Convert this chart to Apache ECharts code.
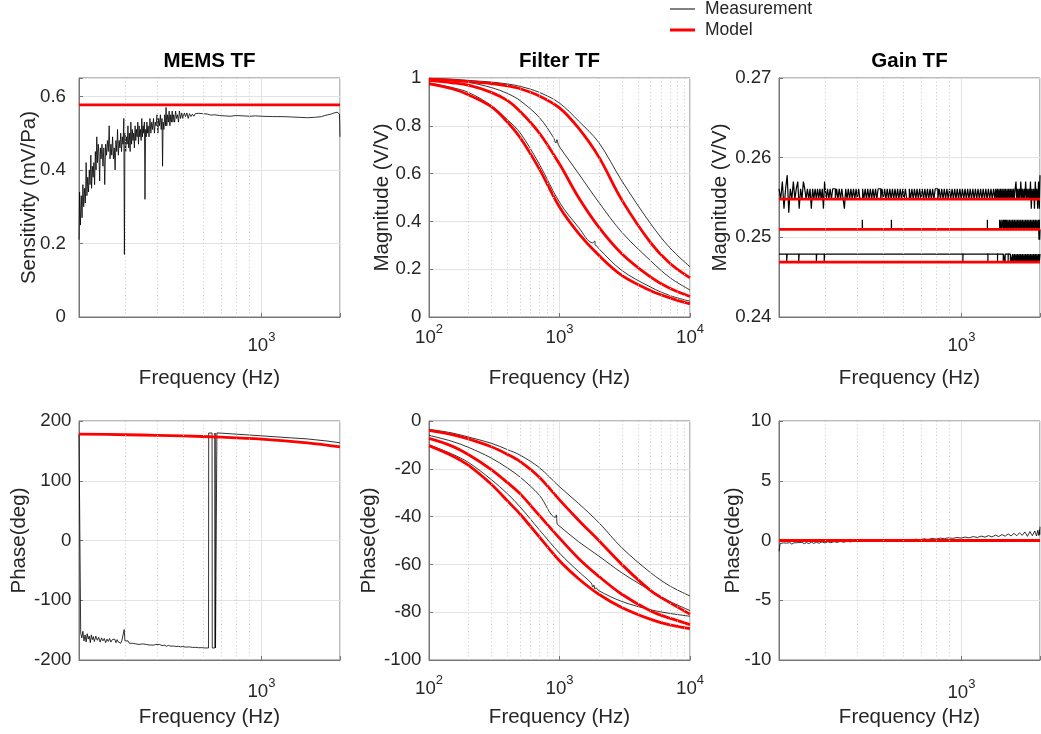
<!DOCTYPE html>
<html><head><meta charset="utf-8">
<script src="https://cdn.jsdelivr.net/npm/echarts@6/dist/echarts.min.js"></script>
<style>html,body{margin:0;padding:0;background:#fff}#c{width:1041px;height:734px}</style>
</head><body><div id="c"></div>
<script>
// ---------------- DATA ----------------
// MEMS TF magnitude (mV/Pa)
const memsMagF = [
 200,201,202.5,204,205.5,207,208.5,210,211.5,213,
 214.5,216,217.5,219,220.5,222,223.5,225,226.5,228,
 229.5,231,232.5,234,235.5,237,238.5,240,241.5,243,
 245,247,249,251,253,255,257,259,261,263,
 265,267,269,271,273,275,277,279,281,283,
 285,287,289,291,293,295,297,298.5,300,302,
 304,306,308,310,312,314,316,318,320,322,
 324,326,328,330,332,334,336,338,340,342,
 344,346,348,350,352,354,356,358,360,362,
 364,366,368,371,374,377,380,383,386,389,
 392,395,398,401,404,407,410,413,416,418,
 420,423,426,429,431,434,437,440,443,446,
 449,452,455,458,461,465,469,473,477,481,
 485,490,495,500,506,512,518,524,530,537,
 544,551,558,566,575,585,595,605,620,640,
 660,690,720,760,800,850,900,950,1000,1100,
 1200,1300,1400,1500,1600,1700,1750,1800,1850,1900,
 1950,1975,1990,1995,2000];
const memsMagV = [
 0.21,0.34,0.25,0.33,0.27,0.36,0.30,0.35,0.31,0.42,
 0.33,0.38,0.34,0.40,0.36,0.44,0.35,0.41,0.38,0.42,
 0.36,0.45,0.40,0.49,0.42,0.47,0.44,0.37,0.46,0.43,
 0.47,0.41,0.46,0.36,0.47,0.44,0.48,0.45,0.52,0.43,
 0.47,0.44,0.49,0.43,0.46,0.40,0.48,0.45,0.51,0.44,
 0.48,0.46,0.50,0.45,0.49,0.47,0.54,0.17,0.50,0.45,
 0.49,0.47,0.52,0.46,0.50,0.45,0.53,0.47,0.51,0.48,
 0.50,0.46,0.52,0.48,0.51,0.49,0.53,0.47,0.52,0.49,
 0.51,0.48,0.54,0.49,0.52,0.50,0.53,0.32,0.51,0.49,
 0.53,0.50,0.52,0.49,0.54,0.50,0.53,0.51,0.54,0.50,
 0.53,0.52,0.55,0.50,0.54,0.52,0.55,0.51,0.54,0.41,
 0.53,0.51,0.55,0.52,0.57,0.52,0.55,0.53,0.56,0.52,
 0.55,0.53,0.56,0.53,0.55,0.53,0.56,0.54,0.55,0.53,
 0.56,0.54,0.555,0.54,0.555,0.545,0.555,0.54,0.553,0.545,
 0.552,0.546,0.553,0.548,0.554,0.549,0.553,0.55,0.552,0.549,
 0.55,0.548,0.547,0.546,0.548,0.547,0.546,0.547,0.546,0.545,
 0.545,0.544,0.543,0.542,0.543,0.545,0.548,0.55,0.552,0.555,
 0.557,0.555,0.552,0.53,0.49];
const memsModelF = [200, 2000];
const memsModelV = [0.577, 0.577];

// MEMS TF phase (deg)
const memsPhF = [
 200,203,205,207,209,211,213,215,217,219,
 221,223,225,227,229,232,235,238,241,244,
 247,250,253,256,259,262,265,268,271,274,
 277,280,283,286,289,292,295,298,300,304,
 308,312,316,320,325,330,335,340,345,350,
 356,362,368,374,380,387,394,401,408,416,
 424,432,440,450,460,470,480,490,500,515,
 530,545,560,575,590,605,627,628,647,648,
 663,664,666,667,674,675,700,800,1000,1200,
 1500,1800,2000];
const memsPhV = [
 178,-155,-163,-152,-168,-158,-170,-156,-165,-160,
 -171,-158,-166,-161,-169,-160,-167,-162,-170,-163,
 -168,-164,-171,-165,-169,-164,-170,-166,-169,-165,
 -171,-166,-170,-167,-172,-167,-170,-149,-168,-171,
 -168,-172,-169,-172,-170,-173,-170,-174,-171,-173,
 -172,-174,-172,-175,-173,-175,-174,-176,-174,-176,
 -175,-177,-175.5,-177,-176.5,-177.5,-177,-178,-177.5,-178.5,
 -178,-179,-178.8,-179.5,-179.3,-179.8,-179.9,179.9,179.9,-179.9,
 -179.9,179.9,179.9,-179.9,-179.9,180,179.7,178,175.2,172.8,
 170,166.3,163.5];
const memsPhModelF = [200,300,400,500,700,1000,1500,2000];
const memsPhModelV = [178.1,177,176,175,173,169.8,163.5,156.7];

// Filter TF
const filterF = [100,150,200,300,400,500,700,1000,1400,2000,3000,5000,7000,10000];
const filterMagModel1 = [0.995,0.99,0.985,0.977,0.967,0.955,0.925,0.875,0.79,0.67,0.49,0.31,0.225,0.164];
const filterMagModel2 = [0.99,0.98,0.97,0.94,0.905,0.86,0.77,0.64,0.50,0.376,0.265,0.167,0.12,0.086];
const filterMagModel3 = [0.975,0.955,0.93,0.88,0.815,0.75,0.62,0.46,0.35,0.258,0.174,0.11,0.08,0.055];
const filterMagMeas1 = [0.998,0.995,0.99,0.983,0.975,0.965,0.94,0.895,0.82,0.73,0.57,0.39,0.29,0.21];
const filterMagMeas2F = [100,150,200,300,400,500,700,897,939,956,978,1000,1400,2000,3000,5000,7000,10000];
const filterMagMeas2 = [0.995,0.99,0.982,0.96,0.935,0.905,0.835,0.752,0.728,0.742,0.722,0.712,0.6,0.48,0.355,0.235,0.165,0.113];
const filterMagMeas3F = [100,150,200,300,400,500,700,1000,1400,1800,1860,1880,1920,2000,3000,5000,7000,10000];
const filterMagMeas3 = [0.98,0.96,0.94,0.885,0.825,0.77,0.64,0.48,0.375,0.31,0.318,0.30,0.298,0.286,0.195,0.125,0.09,0.066];

const filterPhModel1 = [-3.9,-5.7,-7.5,-10.8,-14,-17,-23.5,-33,-41.5,-50,-60,-71,-76,-80.8];
const filterPhModel2 = [-7.3,-10.5,-14,-20.3,-25.8,-30.5,-39.5,-49,-57.5,-65,-72.5,-79.5,-82.5,-85.2];
const filterPhModel3 = [-10.3,-14.5,-18.5,-26.5,-33.5,-39,-48.5,-58.5,-66,-72.5,-78,-83,-85.3,-86.9];
const filterPhMeas1 = [-3.5,-5,-6.7,-9.3,-12,-14.3,-19.5,-27.5,-34.5,-42.5,-53,-63.5,-69,-73.2];
const filterPhMeas2F = [100,150,200,300,400,500,700,930,945,960,980,1000,1400,2000,3000,5000,7000,10000];
const filterPhMeas2 = [-6,-8.5,-11,-15.5,-19.7,-23.5,-31,-40.3,-39.3,-43.2,-43.6,-44,-50.5,-56.5,-63.5,-71,-75.5,-79.3];
const filterPhMeas3F = [100,150,200,300,400,500,700,1000,1400,1750,1800,1830,1870,1900,2000,3000,5000,7000,10000];
const filterPhMeas3 = [-10,-13.8,-17.3,-24.5,-30.5,-36,-45.5,-55.3,-63,-67.8,-69.5,-68.6,-70.3,-69.8,-71,-75.5,-79,-80.5,-81.7];

// Gain TF magnitude (V/V)
const gainTopF = [
 200,203,206,209,212,215,218,221,224,227,230,233,236,239,242,245,248,251,254,257,
 260,263,266,269,272,275,278,281,284,287,290,293,296,299,
 303.5,307,310.5,314,317.6,321.3,325,328.7,332.5,336.3,
 340.2,344.1,348.1,352.1,356.1,360.2,364.4,368.6,372.8,377.1,
 381.4,385.8,390.3,394.8,399.3,403.9,408.5,413.2,418,422.8,
 427.7,432.6,437.6,442.6,447.7,452.9,458.1,463.4,468.7,474.1,
 479.6,485.1,490.7,496.3,502,507.8,513.7,519.6,525.6,531.6,
 537.8,544,550.2,556.5,562.9,569.4,576,582.6,589.3,596.1,
 603,609.9,617,624.1,631.2,638.5,645.9,653.3,660.8,668.4,
 676.1,683.9,691.8,699.7,707.8,716,724.2,732.5,741,749.5,
 758.1,766.9,775.7,784.6,793.7,802.8,812,821.4,830.8,840.4,
 850,859.8,869.7,879.7,889.8,900.1,910.4,920.9,931.5,942.2,
 953,964,975.1,986.3,997.6,1009,1020.6,1032.4,1044.3,1056.3,
 1068.4,1080.7,1093.1,1105.7,1118.4,1131.3,1144.3,1157.5,1170.8,1184.3,
 1197.9,1211.7,1225.6,1239.7,1254,1268.4,1283,1297.7,1312.6,1327.7,
 1343,1353,
 1364,1373,1383,1393,1403,1413,1423,1433,1443,1454,
 1464,1474,1485,1496,1506,1517,1528,1539,1550,1561,
 1572,1583,1595,1606,1618,1629,1641,1653,1664,1676,
 1688,1700,1712,1725,1737,1749,1762,1775,1787,1800,
 1813,1826,1839,1852,1865,1878,1892,1905,1919,1933,
 1946,1960,1974,1988,2000];
const gainTopV = [
 0.2561,0.2548,0.2570,0.2536,0.2561,0.2578,0.2531,0.2561,0.2548,0.2570,
 0.2548,0.2561,0.2570,0.2536,0.2561,0.2548,0.2570,0.2561,0.2548,0.2561,
 0.2548,0.2561,0.2536,0.2561,0.2548,0.2561,0.2548,0.2561,0.2548,0.2561,
 0.2548,0.2561,0.2536,0.2570,
 0.2548,0.2561,0.2548,0.2561,0.2548,0.2561,0.2561,0.2548,0.2561,0.2548,
 0.2561,0.2548,0.2561,0.2548,0.2536,0.2561,0.2548,0.2561,0.2548,0.2561,
 0.2548,0.2561,0.2548,0.2561,0.2548,0.2561,0.2548,0.2548,0.2561,0.2548,
 0.2561,0.2548,0.2561,0.2548,0.2561,0.2548,0.2561,0.2548,0.2561,0.2548,
 0.2561,0.2561,0.2548,0.2561,0.2548,0.2561,0.2548,0.2561,0.2548,0.2561,
 0.2548,0.2561,0.2548,0.2561,0.2548,0.2561,0.2548,0.2561,0.2548,0.2561,
 0.2548,0.2561,0.2548,0.2548,0.2561,0.2548,0.2561,0.2548,0.2561,0.2548,
 0.2561,0.2548,0.2561,0.2548,0.2561,0.2548,0.2561,0.2548,0.2561,0.2548,
 0.2561,0.2548,0.2561,0.2548,0.2561,0.2561,0.2548,0.2561,0.2548,0.2561,
 0.2548,0.2561,0.2548,0.2561,0.2548,0.2561,0.2548,0.2561,0.2548,0.2561,
 0.2548,0.2561,0.2548,0.2561,0.2548,0.2561,0.2548,0.2561,0.2548,0.2561,
 0.2548,0.2561,0.2548,0.2561,0.2548,0.2561,0.2548,0.2561,0.2548,0.2561,
 0.2548,0.2561,0.2548,0.2561,0.2548,0.2561,0.2548,0.2561,0.2548,0.2561,
 0.2548,0.2561,
 0.2548,0.2561,0.2548,0.2561,0.2548,0.2561,0.2548,0.2561,0.2548,0.2561,
 0.2548,0.2561,0.2548,0.2561,0.2548,0.2561,0.2548,0.2561,0.2548,0.2561,
 0.2548,0.2561,0.2548,0.2561,0.2570,0.2548,0.2561,0.2548,0.2561,0.2548,
 0.2570,0.2548,0.2561,0.2548,0.2561,0.2548,0.2570,0.2548,0.2561,0.2548,
 0.2561,0.2548,0.2570,0.2536,0.2561,0.2548,0.2561,0.2536,0.2570,0.2548,
 0.2561,0.2536,0.2570,0.2536,0.2578];
const gainMidF = [
 200,417,418,539,540,1257,1258,1400,1401,1420,1421,1443,1444,1454,1455,1464,1465,1474,1475,1485,1496,
 1506,1517,1528,1539,1550,1561,1572,1583,1595,1606,
 1618,1629,1641,1653,1664,1676,1688,1700,1712,1725,
 1737,1749,1762,1775,1787,1800,1813,1826,1839,1852,
 1865,1878,1892,1905,1919,1933,1946,1960,1974,
 1982,1988,1994,2000];
const gainMidV = [
 0.2510,0.2522,0.2510,0.2522,0.2510,0.2522,0.2510,0.2522,0.2510,0.2522,0.2510,0.2522,0.2510,0.2522,0.2510,0.2522,0.2510,0.2522,0.2510,0.2522,0.2510,
 0.2522,0.2510,0.2522,0.2510,0.2522,0.2510,0.2522,0.2510,0.2522,0.2510,
 0.2522,0.2510,0.2522,0.2510,0.2522,0.2510,0.2522,0.2510,0.2522,0.2510,
 0.2522,0.2510,0.2522,0.2510,0.2522,0.2510,0.2522,0.2510,0.2522,0.2510,
 0.2522,0.2510,0.2522,0.2510,0.2522,0.2510,0.2522,0.2510,0.2522,
 0.2497,0.2522,0.2497,0.2510];
const gainBotF = [
 200,214,215,238,239,278,279,298,299,1013,1014,1263,1264,1375,1376,1446,1447,1470,1471,1510,1511,1540,1541,
 1561,1572,1583,1595,1606,1618,1629,1641,1653,1664,
 1676,1688,1700,1712,1725,1737,1749,1762,1775,1787,
 1800,1813,1826,1839,1852,1865,1878,1892,1905,1919,
 1933,1946,1960,1974,1988,2000];
const gainBotV = [
 0.2479,0.2469,0.2479,0.2469,0.2479,0.2469,0.2479,0.2469,0.2479,0.2469,0.2479,0.2469,0.2479,0.2469,0.2479,0.2469,0.2479,0.2469,0.2479,0.2469,0.2479,0.2469,0.2479,
 0.2469,0.2479,0.2469,0.2479,0.2469,0.2479,0.2469,0.2479,0.2469,0.2479,
 0.2469,0.2479,0.2469,0.2479,0.2469,0.2479,0.2469,0.2479,0.2469,0.2479,
 0.2469,0.2479,0.2469,0.2479,0.2469,0.2479,0.2469,0.2479,0.2469,0.2479,
 0.2469,0.2479,0.2469,0.2479,0.2469,0.2479];
const gainModelF = [200, 2000];
const gainModel1 = [0.2548, 0.2548];
const gainModel2 = [0.2510, 0.2510];
const gainModel3 = [0.2469, 0.2469];

// Gain TF phase (deg)
const gainPhF = [
 200,202,205,208,211,214,217,220,224,228,
 232,236,240,245,250,255,260,266,272,278,
 285,292,300,308,316,325,334,344,354,365,
 376,388,400,413,427,441,456,472,488,505,
 523,541,560,580,600,622,645,668,692,718,
 745,772,800,830,860,893,926,960,996,1033,
 1070,1110,1150,1190,1230,1270,1310,1350,1390,1430,
 1470,1510,1550,1590,1630,1670,1710,1750,1790,1830,
 1870,1910,1940,1960,1980,1990,1995,2000];
const gainPhV = [
 -0.9,-0.25,-0.38,-0.2,-0.35,-0.22,-0.33,-0.18,-0.3,-0.2,
 -0.32,-0.18,-0.28,-0.16,-0.27,-0.17,-0.26,-0.14,-0.24,-0.15,
 -0.23,-0.12,-0.2,-0.1,-0.19,-0.09,-0.16,-0.07,-0.15,-0.06,
 -0.12,-0.03,-0.1,-0.02,-0.08,0.0,-0.06,0.02,-0.04,0.03,
 -0.02,0.05,0.0,0.07,0.02,0.09,0.04,0.11,0.06,0.14,
 0.09,0.17,0.12,0.2,0.15,0.23,0.17,0.26,0.2,0.29,
 0.22,0.33,0.25,0.37,0.28,0.41,0.3,0.45,0.33,0.5,
 0.36,0.55,0.38,0.6,0.4,0.65,0.43,0.72,0.35,0.75,
 0.4,0.8,0.38,0.85,0.42,0.9,0.5,1.15];
const gainPhModelF = [200, 2000];
const gainPhModelV = [0, 0];

// Minor grid positions (log axes)
const minorNarrow = [300,400,500,600,700,800,900];
const minorWide = [200,300,400,500,600,700,800,900,2000,3000,4000,5000,6000,7000,8000,9000];

// ---------------- STYLE ----------------
const FONT = '"Liberation Sans", Arial, Helvetica, sans-serif';
const TXT = '#262626';
const AX = '#777777';
const GRIDC = '#e3e3e3';
const MINC = '#c9c9c9';
const RED = '#ff0000';
const BLK = '#000000';

const G = [
  {left: 79, top: 78}, {left: 429, top: 78}, {left: 779, top: 78},
  {left: 79, top: 421}, {left: 429, top: 421}, {left: 779, top: 421}
];

function pow10Label(v) {
  const e = Math.log10(v);
  const r = Math.round(e);
  if (Math.abs(e - r) > 1e-6) return '';
  return '{b|10}{s|' + r + '}';
}
function xAx(i, min, max, nameGap, margin) {
  return {
    type: 'log', logBase: 10, gridIndex: i, min: min, max: max,
    name: 'Frequency (Hz)', nameLocation: 'middle', nameGap: nameGap, nameMoveOverlap: false,
    nameTextStyle: {fontFamily: FONT, fontSize: 20.5, color: TXT},
    axisLine: {show: true, onZero: false, lineStyle: {color: AX, width: 1}},
    axisTick: {show: true, inside: true, length: 4, lineStyle: {color: AX}},
    minorTick: {show: false}, minorSplitLine: {show: false},
    axisLabel: {
      formatter: pow10Label, margin: margin, showMinLabel: true, showMaxLabel: true, hideOverlap: false,
      rich: {
        b: {fontFamily: FONT, fontSize: 18.7, color: TXT, lineHeight: 24, verticalAlign: 'bottom'},
        s: {fontFamily: FONT, fontSize: 13, color: TXT, lineHeight: 24, verticalAlign: 'top'}
      }
    },
    splitLine: {show: true, lineStyle: {color: GRIDC, width: 1}}
  };
}
function yAx(i, min, max, interval, name, nameGap, margin, fmt) {
  return {
    type: 'value', gridIndex: i, min: min, max: max, interval: interval,
    name: name, nameLocation: 'middle', nameGap: nameGap, nameMoveOverlap: false,
    nameTextStyle: {fontFamily: FONT, fontSize: 20.5, color: TXT},
    axisLine: {show: true, onZero: false, lineStyle: {color: AX, width: 1}},
    axisTick: {show: true, inside: true, length: 4, lineStyle: {color: AX}},
    axisLabel: {formatter: fmt, margin: margin, fontFamily: FONT, fontSize: 18.7, color: TXT, showMaxLabel: true, showMinLabel: true},
    splitLine: {show: true, lineStyle: {color: GRIDC, width: 1}}
  };
}
const fmtNum = v => String(parseFloat(v.toFixed(4)));
const fmtMems = v => (v > 0.61 ? '' : String(parseFloat(v.toFixed(4))));
const fmt2 = v => v.toFixed(2);

function zip(f, v) { return f.map((x, k) => [x, v[k]]); }
function ser(i, name, f, v, color, width, z, extra) {
  return Object.assign({
    type: 'line', name: name, xAxisIndex: i, yAxisIndex: i, data: zip(f, v),
    symbol: 'none', showSymbol: false, silent: true, z: z,
    lineStyle: {color: color, width: width}, itemStyle: {color: color},
    emphasis: {disabled: true}
  }, extra || {});
}
function minor(i, vals) {
  return {
    type: 'line', xAxisIndex: i, yAxisIndex: i, data: [], silent: true, z: 1,
    markLine: {
      silent: true, symbol: ['none', 'none'], label: {show: false}, animation: false,
      lineStyle: {color: MINC, type: [1, 2.5], width: 1},
      emphasis: {disabled: true},
      data: vals.map(x => ({xAxis: x}))
    }
  };
}

const MW = 0.8, GW = 1.2, RW = 2.8;
const smooth = {smooth: 0.35};
const stepE = {step: 'end'};

const option = {
  animation: false,
  backgroundColor: '#ffffff',
  textStyle: {fontFamily: FONT},
  title: [
    {text: 'MEMS TF', left: 209.5, top: 51, textAlign: 'center', padding: 0, textStyle: {fontFamily: FONT, fontSize: 20.5, fontWeight: 'bold', color: '#000'}},
    {text: 'Filter TF', left: 559.5, top: 51, textAlign: 'center', padding: 0, textStyle: {fontFamily: FONT, fontSize: 20.5, fontWeight: 'bold', color: '#000'}},
    {text: 'Gain TF', left: 909.5, top: 51, textAlign: 'center', padding: 0, textStyle: {fontFamily: FONT, fontSize: 20.5, fontWeight: 'bold', color: '#000'}}
  ],
  legend: {
    data: [
      {name: 'Measurement', icon: 'path://M0 0H25V1H0Z'},
      {name: 'Model', icon: 'path://M0 0H25V3H0Z'}
    ],
    orient: 'vertical', left: 670, top: 0, padding: 0,
    itemWidth: 25, itemHeight: 14, itemGap: 3, selectedMode: false,
    textStyle: {fontFamily: FONT, fontSize: 17.5, color: TXT, padding: [0, 0, 0, 5]}
  },
  grid: G.map(g => ({left: g.left, top: g.top, width: 261, height: 239, containLabel: false, outerBoundsMode: 'none',
    show: true, borderColor: AX, borderWidth: 1, backgroundColor: '#fff'})),
  xAxis: [
    xAx(0, 200, 2000, 51, 14),
    xAx(1, 100, 10000, 51, 6),
    xAx(2, 200, 2000, 51, 14),
    xAx(3, 200, 2000, 47, 17),
    xAx(4, 100, 10000, 47, 14),
    xAx(5, 200, 2000, 47, 18)
  ],
  yAxis: [
    yAx(0, 0, 0.65, 0.2, 'Sensitivity (mV/Pa)', 39, 13, fmtMems),
    yAx(1, 0, 1, 0.2, 'Magnitude (V/V)', 36, 7.5, fmtNum),
    yAx(2, 0.24, 0.27, 0.01, 'Magnitude (V/V)', 48, 7.5, fmt2),
    yAx(3, -200, 200, 100, 'Phase(deg)', 49, 7.5, fmtNum),
    yAx(4, -100, 0, 20, 'Phase(deg)', 49, 7.5, fmtNum),
    yAx(5, -10, 10, 5, 'Phase(deg)', 35, 7.5, fmtNum)
  ],
  series: [
    minor(0, minorNarrow), minor(1, minorWide), minor(2, minorNarrow),
    minor(3, minorNarrow), minor(4, minorWide), minor(5, minorNarrow),
    // MEMS
    ser(0, 'Measurement', memsMagF, memsMagV, BLK, MW, 2),
    ser(0, 'Model', memsModelF, memsModelV, RED, RW, 3),
    ser(3, 'Measurement', memsPhF, memsPhV, BLK, MW, 2),
    ser(3, 'Model', memsPhModelF, memsPhModelV, RED, RW, 3, smooth),
    // Filter magnitude
    ser(1, 'Measurement', filterF, filterMagMeas1, BLK, MW, 2, smooth),
    ser(1, 'Measurement', filterMagMeas2F, filterMagMeas2, BLK, MW, 2, smooth),
    ser(1, 'Measurement', filterMagMeas3F, filterMagMeas3, BLK, MW, 2, smooth),
    ser(1, 'Model', filterF, filterMagModel1, RED, RW, 3, smooth),
    ser(1, 'Model', filterF, filterMagModel2, RED, RW, 3, smooth),
    ser(1, 'Model', filterF, filterMagModel3, RED, RW, 3, smooth),
    // Filter phase
    ser(4, 'Measurement', filterF, filterPhMeas1, BLK, MW, 2, smooth),
    ser(4, 'Measurement', filterPhMeas2F, filterPhMeas2, BLK, MW, 2, smooth),
    ser(4, 'Measurement', filterPhMeas3F, filterPhMeas3, BLK, MW, 2, smooth),
    ser(4, 'Model', filterF, filterPhModel1, RED, RW, 3, smooth),
    ser(4, 'Model', filterF, filterPhModel2, RED, RW, 3, smooth),
    ser(4, 'Model', filterF, filterPhModel3, RED, RW, 3, smooth),
    // Gain magnitude
    ser(2, 'Measurement', gainTopF, gainTopV, BLK, GW, 2, stepE),
    ser(2, 'Measurement', gainMidF, gainMidV, BLK, GW, 2, stepE),
    ser(2, 'Measurement', gainBotF, gainBotV, BLK, GW, 2, stepE),
    ser(2, 'Model', gainModelF, gainModel1, RED, RW, 3),
    ser(2, 'Model', gainModelF, gainModel2, RED, RW, 3),
    ser(2, 'Model', gainModelF, gainModel3, RED, RW, 3),
    // Gain phase
    ser(5, 'Measurement', gainPhF, gainPhV, BLK, MW, 2),
    ser(5, 'Model', gainPhModelF, gainPhModelV, RED, RW, 3)
  ]
};

const chart = echarts.init(document.getElementById('c'), null, {renderer: 'canvas', width: 1041, height: 734});
chart.setOption(option);
</script>
</body></html>
